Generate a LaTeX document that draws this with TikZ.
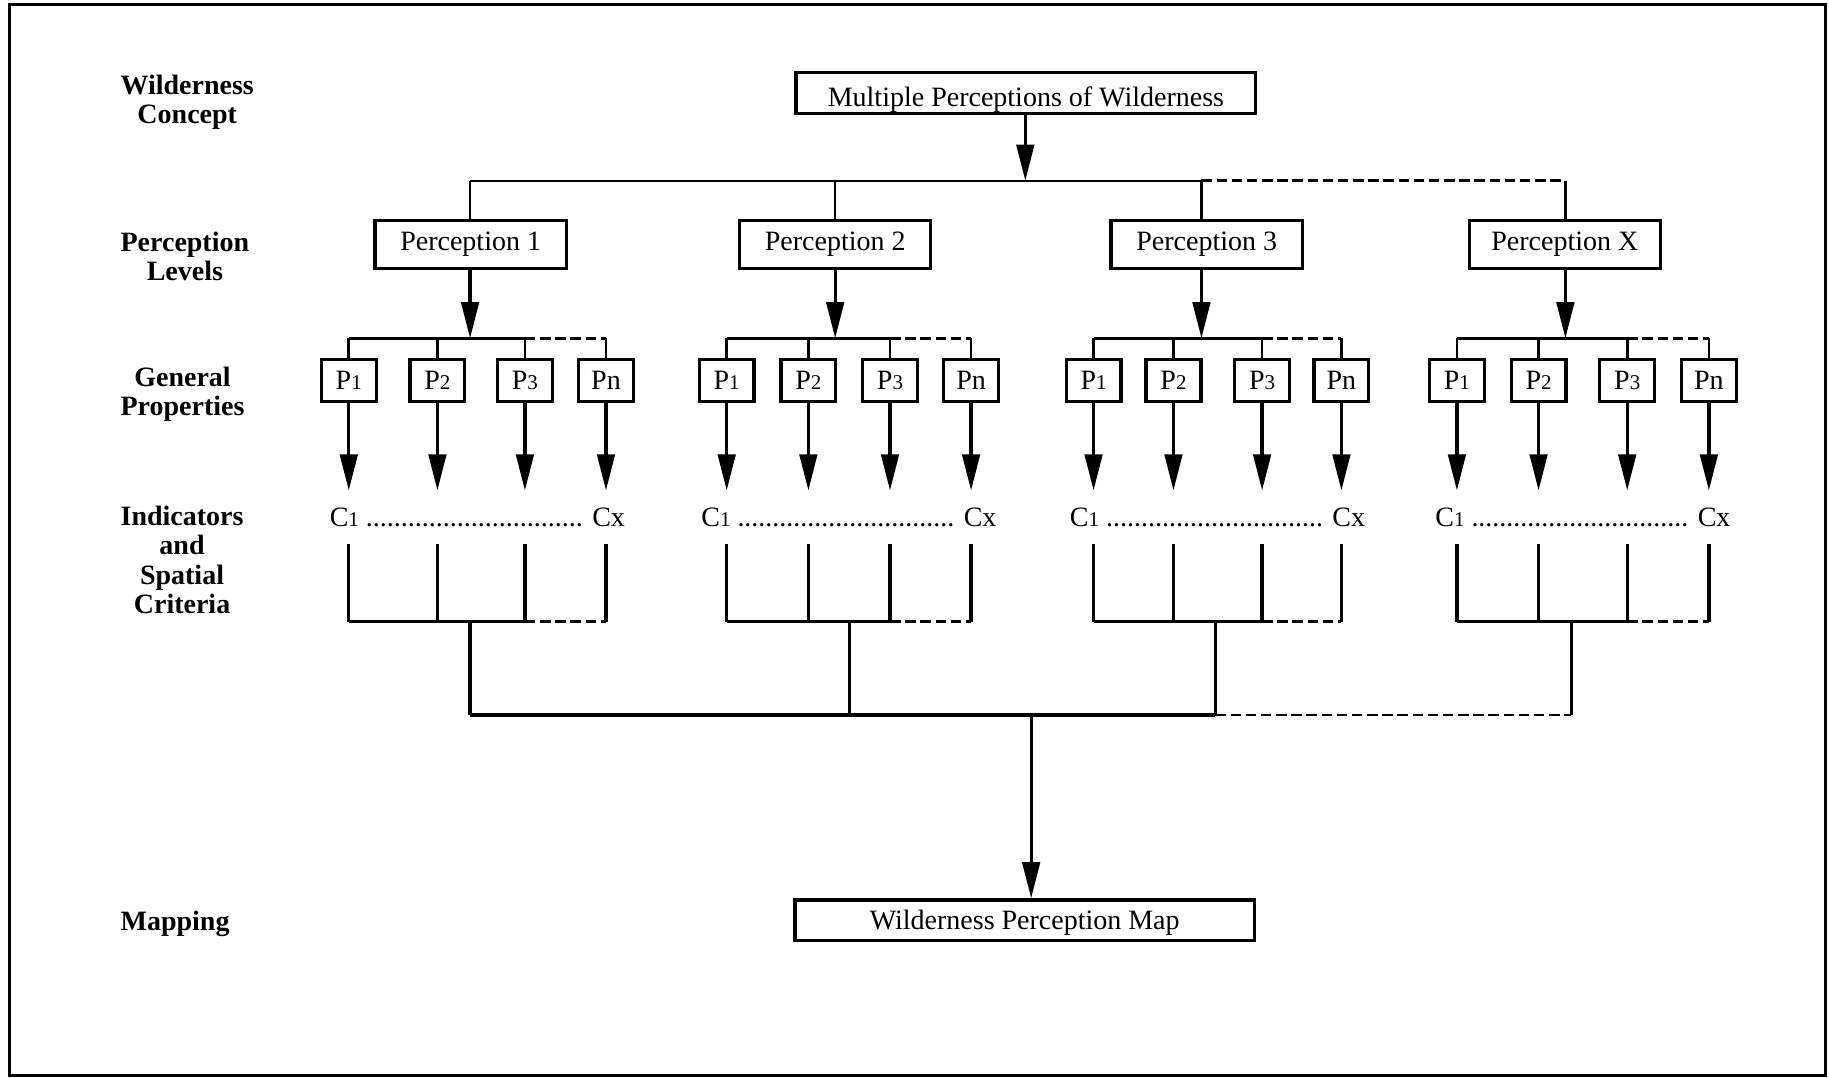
\documentclass[tikz,border=0pt]{standalone}
\usepackage{fontspec}
\setmainfont{Liberation Serif}
\usetikzlibrary{arrows.meta}
% small digit set on the baseline, as in P1, C1
\newcommand\lowdigit[1]{{\fontsize{9}{9}\selectfont #1}}
\begin{document}
\begin{tikzpicture}[x=0.5pt,y=-0.5pt,
  every node/.style={font=\fontsize{12}{12.5}\selectfont},
  box/.style={draw,line width=1.4pt,inner sep=0pt},
  widebox/.style={box,minimum width=197pt,minimum height=17.5pt},
  percbox/.style={box,minimum width=82pt,minimum height=20.5pt},
  propbox/.style={box,minimum width=23.5pt,minimum height=18pt},
  rowlabel/.style={anchor=west,align=center,inner sep=0pt,
    font=\fontsize{12}{12.5}\selectfont\bfseries},
  indrow/.style={inner xsep=0pt,inner ysep=7.25pt},
  link/.style={line width=1.1pt},
  strong/.style={line width=1.4pt},
  flow/.style={line width=1.4pt,-{Triangle[length=15.5pt,width=7.5pt]}},
  dashlink/.style={line width=1.2pt,dash pattern=on 4.5pt off 2pt},
]
\useasboundingbox (0,0) rectangle (1568,924);
% outer frame
\draw[line width=1.2pt] (8,4) rectangle (1565,922);

% row labels
\node[rowlabel] (labConcept) at (103,88) {Wilderness\\Concept};
\node[rowlabel] (labLevels) at (103,220) {Perception\\Levels};
\node[rowlabel] (labProps) at (103,338) {General\\Properties};
\node[rowlabel] (labIndic) at (103,480) {Indicators\\and\\Spatial\\Criteria};
\node[rowlabel] (labMap) at (103,792) {Mapping};

% concept box and distribution line
\node[widebox,text height=11.5pt,text depth=0pt] (concept) at (879.5,79.5)
  {Multiple Perceptions of Wilderness};
\coordinate (hub) at (879,155);
\draw[flow] (concept.south -| hub) -- (hub);

% one column group per perception
\foreach \g/\pl/\pc/\ax/\ca/\cb/\cc/\cd/\dx in {
  1/1/403.5/403/299/375/450/519.5/403,
  2/2/716/716/623/693/763/832.5/728,
  3/3/1034.5/1030/937.5/1006/1082/1150/1042,
  4/X/1341.5/1342/1249/1319/1395/1465/1347}
{
  \node[percbox] (perc\g) at (\pc,209.5) {Perception \pl};
  \coordinate (top\g) at (\ax,155);
  \draw[link] (top\g) -- (top\g |- perc\g.north);
  \coordinate (br\g) at (\ax,290);
  \draw[flow] (top\g |- perc\g.south) -- (br\g);

  \node[propbox] (pa\g) at (\ca,326) {P\lowdigit{1}};
  \node[propbox] (pb\g) at (\cb,326) {P\lowdigit{2}};
  \node[propbox] (pc\g) at (\cc,326) {P\lowdigit{3}};
  \node[propbox] (pd\g) at (\cd,326) {Pn};

  \node[indrow] (ind\g) at ({(\ca+\cd)/2},443.5)
    {C\lowdigit{1} ............................... Cx};

  % branch line above the property boxes
  \draw[link] (pa\g.north |- br\g) -- (pc\g.north |- br\g);
  \draw[dashlink] (pc\g.north |- br\g) -- (pd\g.north |- br\g);
  \foreach \p in {pa,pb,pc,pd}{
    \draw[link] (\p\g.north |- br\g) -- (\p\g.north);
    \draw[flow] (\p\g.south) -- (\p\g.south |- ind\g.north);
  }

  % gathering line below the indicators
  \coordinate (gb\g) at (\dx,533);
  \foreach \p in {pa,pb,pc,pd}{
    \draw[strong] (\p\g.south |- ind\g.south) -- (\p\g.south |- gb\g);
  }
  \draw[strong] (pa\g.south |- gb\g) -- (pc\g.south |- gb\g);
  \draw[dashlink] (pc\g.south |- gb\g) -- (pd\g.south |- gb\g);
  \coordinate (cl\g) at (\dx,613);
  \draw[strong] (gb\g) -- (cl\g);
}

% top distribution line
\draw[link] (top1) -- (top3);
\draw[dashlink] (top3) -- (top4);

% collector line and mapping
\draw[strong] (cl1) -- (cl3);
\draw[dashlink] (cl3) -- (cl4);
\node[widebox,text height=8pt,text depth=0pt] (map) at (878.5,789)
  {Wilderness Perception Map};
\coordinate (merge) at (884,613);
\draw[flow] (merge) -- (merge |- map.north);
\end{tikzpicture}
\end{document}
